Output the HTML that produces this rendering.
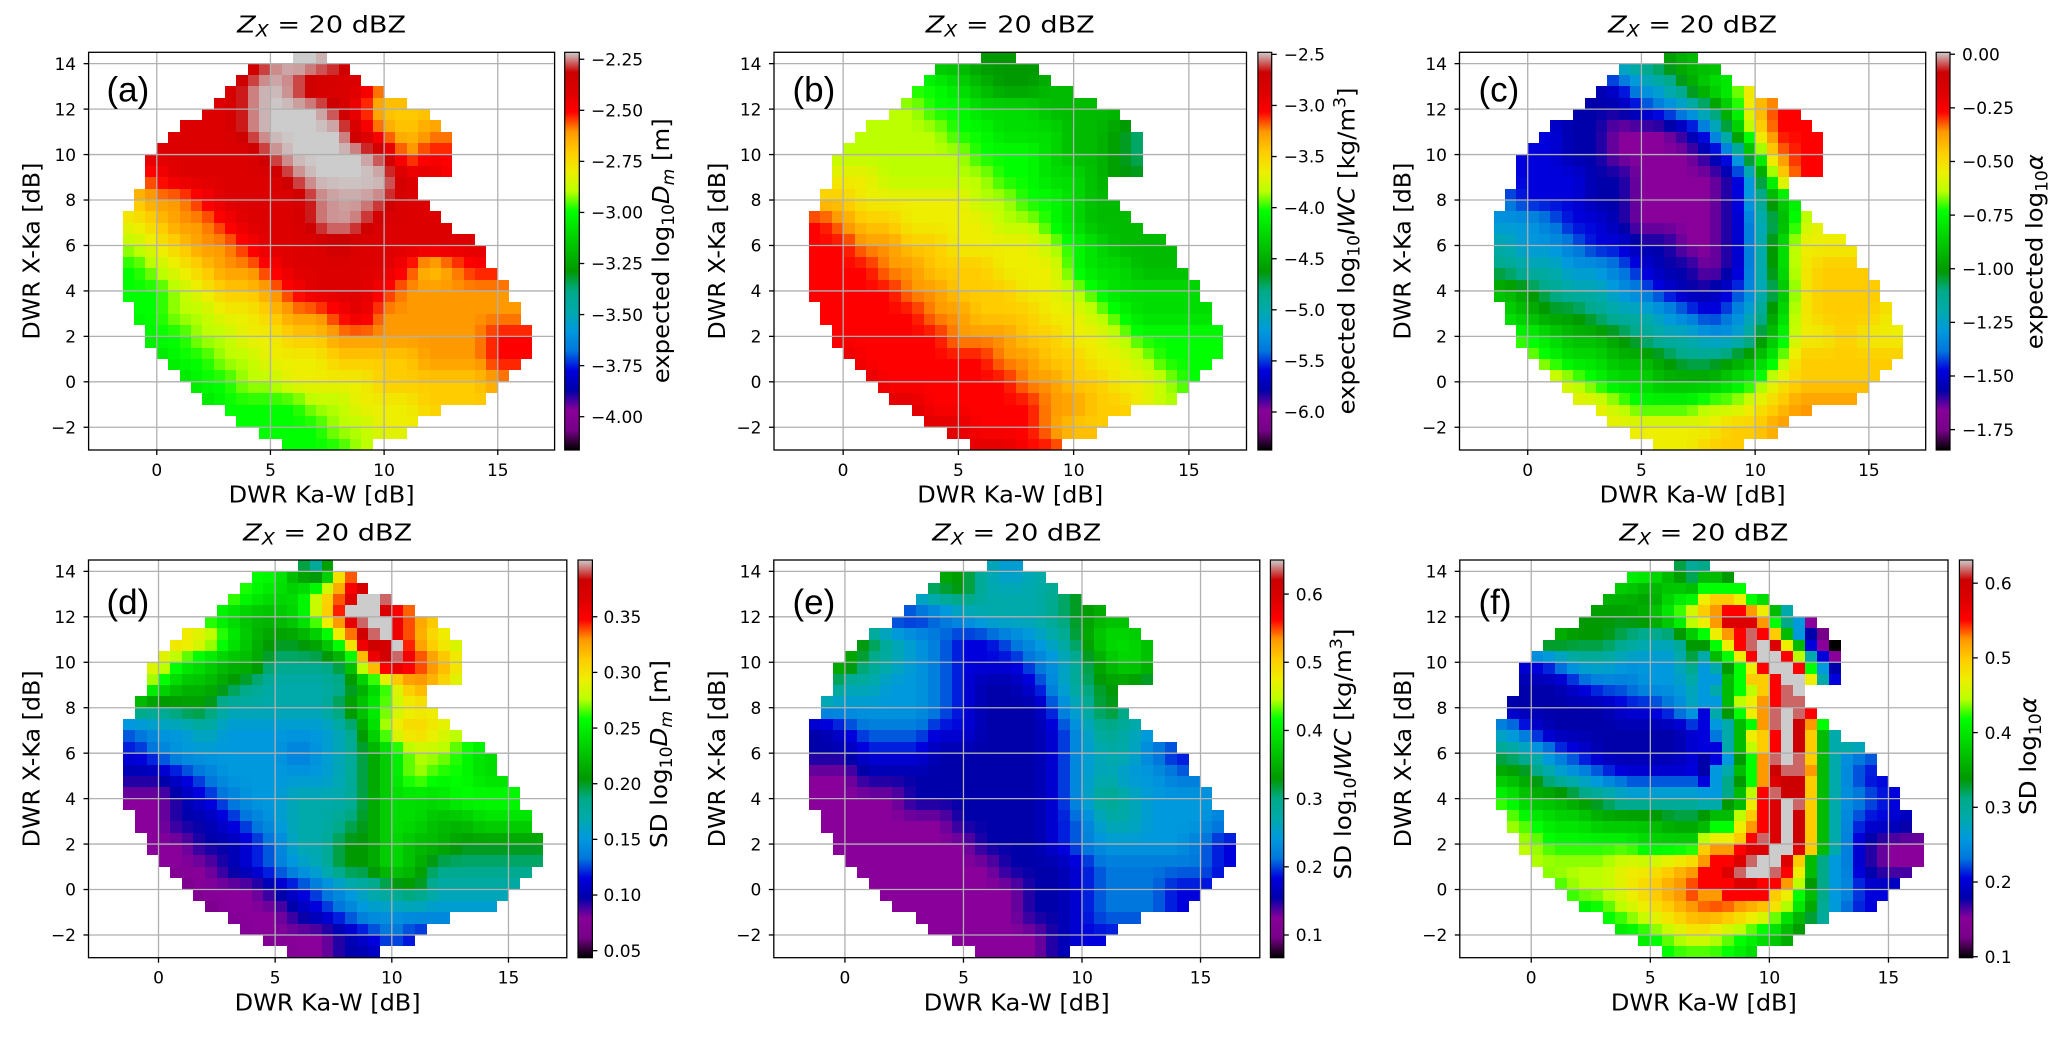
<!DOCTYPE html>
<html><head><meta charset="utf-8">
<style>
html,body{margin:0;padding:0;background:#fff;}
svg{display:block;}
text{font-family:"DejaVu Sans","Liberation Sans",sans-serif;fill:#000;}
.t{font-size:17px;}
.lab{font-size:23.5px;}
.let{font-family:"Liberation Sans",sans-serif;font-size:35px;}
</style></head><body>
<svg id="fig" width="2067" height="1037" viewBox="0 0 2067 1037" xmlns="http://www.w3.org/2000/svg">
<defs>
<linearGradient id="ns" x1="0" y1="1" x2="0" y2="0">
<stop offset="0" stop-color="#000000"/><stop offset="0.05" stop-color="#770088"/><stop offset="0.10" stop-color="#880099"/><stop offset="0.15" stop-color="#0000aa"/><stop offset="0.20" stop-color="#0000dd"/><stop offset="0.25" stop-color="#0077dd"/><stop offset="0.30" stop-color="#0099dd"/><stop offset="0.35" stop-color="#00aaaa"/><stop offset="0.40" stop-color="#00aa88"/><stop offset="0.45" stop-color="#009900"/><stop offset="0.50" stop-color="#00bb00"/><stop offset="0.55" stop-color="#00dd00"/><stop offset="0.60" stop-color="#00ff00"/><stop offset="0.65" stop-color="#bbff00"/><stop offset="0.70" stop-color="#eeee00"/><stop offset="0.75" stop-color="#ffcc00"/><stop offset="0.80" stop-color="#ff9900"/><stop offset="0.85" stop-color="#ff0000"/><stop offset="0.90" stop-color="#dd0000"/><stop offset="0.95" stop-color="#cc0000"/><stop offset="1" stop-color="#cccccc"/>
</linearGradient>
</defs>
<rect width="2067" height="1037" fill="#fff"/>
<g id="cells" shape-rendering="crispEdges"></g>
<g id="lines"></g>

<!-- Titles -->
<text class="lab" x="321.6" y="32.7" text-anchor="middle" textLength="169" lengthAdjust="spacingAndGlyphs"><tspan font-style="italic">Z</tspan><tspan font-style="italic" font-size="16.5" dy="4">X</tspan><tspan dy="-4"> = 20 dBZ</tspan></text>
<text class="lab" x="1010.25" y="32.7" text-anchor="middle" textLength="169" lengthAdjust="spacingAndGlyphs"><tspan font-style="italic">Z</tspan><tspan font-style="italic" font-size="16.5" dy="4">X</tspan><tspan dy="-4"> = 20 dBZ</tspan></text>
<text class="lab" x="1692.6" y="32.7" text-anchor="middle" textLength="169" lengthAdjust="spacingAndGlyphs"><tspan font-style="italic">Z</tspan><tspan font-style="italic" font-size="16.5" dy="4">X</tspan><tspan dy="-4"> = 20 dBZ</tspan></text>
<text class="lab" x="327.65" y="540.4" text-anchor="middle" textLength="169" lengthAdjust="spacingAndGlyphs"><tspan font-style="italic">Z</tspan><tspan font-style="italic" font-size="16.5" dy="4">X</tspan><tspan dy="-4"> = 20 dBZ</tspan></text>
<text class="lab" x="1016.8" y="540.4" text-anchor="middle" textLength="169" lengthAdjust="spacingAndGlyphs"><tspan font-style="italic">Z</tspan><tspan font-style="italic" font-size="16.5" dy="4">X</tspan><tspan dy="-4"> = 20 dBZ</tspan></text>
<text class="lab" x="1703.9" y="540.4" text-anchor="middle" textLength="169" lengthAdjust="spacingAndGlyphs"><tspan font-style="italic">Z</tspan><tspan font-style="italic" font-size="16.5" dy="4">X</tspan><tspan dy="-4"> = 20 dBZ</tspan></text>

<!-- X labels -->
<text class="lab" x="321.6" y="502.7" text-anchor="middle" textLength="186" lengthAdjust="spacingAndGlyphs">DWR Ka-W [dB]</text>
<text class="lab" x="1010.25" y="502.7" text-anchor="middle" textLength="186" lengthAdjust="spacingAndGlyphs">DWR Ka-W [dB]</text>
<text class="lab" x="1692.6" y="502.7" text-anchor="middle" textLength="186" lengthAdjust="spacingAndGlyphs">DWR Ka-W [dB]</text>
<text class="lab" x="327.65" y="1010.4" text-anchor="middle" textLength="186" lengthAdjust="spacingAndGlyphs">DWR Ka-W [dB]</text>
<text class="lab" x="1016.8" y="1010.4" text-anchor="middle" textLength="186" lengthAdjust="spacingAndGlyphs">DWR Ka-W [dB]</text>
<text class="lab" x="1703.9" y="1010.4" text-anchor="middle" textLength="186" lengthAdjust="spacingAndGlyphs">DWR Ka-W [dB]</text>

<!-- Y labels -->
<text class="lab" transform="translate(39.6,251.15) rotate(-90)" text-anchor="middle" textLength="177" lengthAdjust="spacingAndGlyphs">DWR X-Ka [dB]</text>
<text class="lab" transform="translate(725,251.15) rotate(-90)" text-anchor="middle" textLength="177" lengthAdjust="spacingAndGlyphs">DWR X-Ka [dB]</text>
<text class="lab" transform="translate(1410.5,251.15) rotate(-90)" text-anchor="middle" textLength="177" lengthAdjust="spacingAndGlyphs">DWR X-Ka [dB]</text>
<text class="lab" transform="translate(39.5,758.85) rotate(-90)" text-anchor="middle" textLength="177" lengthAdjust="spacingAndGlyphs">DWR X-Ka [dB]</text>
<text class="lab" transform="translate(724.8,758.85) rotate(-90)" text-anchor="middle" textLength="177" lengthAdjust="spacingAndGlyphs">DWR X-Ka [dB]</text>
<text class="lab" transform="translate(1410.8,758.85) rotate(-90)" text-anchor="middle" textLength="177" lengthAdjust="spacingAndGlyphs">DWR X-Ka [dB]</text>

<!-- Y tick labels -->
<g class="t" text-anchor="end">
<text x="76.1" y="433.5">−2</text><text x="76.1" y="388.0">0</text><text x="76.1" y="342.6">2</text><text x="76.1" y="297.1">4</text><text x="76.1" y="251.7">6</text><text x="76.1" y="206.2">8</text><text x="76.1" y="160.8">10</text><text x="76.1" y="115.3">12</text><text x="76.1" y="69.9">14</text>
<text x="761.5" y="433.5">−2</text><text x="761.5" y="388.0">0</text><text x="761.5" y="342.6">2</text><text x="761.5" y="297.1">4</text><text x="761.5" y="251.7">6</text><text x="761.5" y="206.2">8</text><text x="761.5" y="160.8">10</text><text x="761.5" y="115.3">12</text><text x="761.5" y="69.9">14</text>
<text x="1447" y="433.5">−2</text><text x="1447" y="388.0">0</text><text x="1447" y="342.6">2</text><text x="1447" y="297.1">4</text><text x="1447" y="251.7">6</text><text x="1447" y="206.2">8</text><text x="1447" y="160.8">10</text><text x="1447" y="115.3">12</text><text x="1447" y="69.9">14</text>
<text x="76" y="941.2">−2</text><text x="76" y="895.7">0</text><text x="76" y="850.3">2</text><text x="76" y="804.8">4</text><text x="76" y="759.4">6</text><text x="76" y="713.9">8</text><text x="76" y="668.5">10</text><text x="76" y="623.0">12</text><text x="76" y="577.6">14</text>
<text x="761.3" y="941.2">−2</text><text x="761.3" y="895.7">0</text><text x="761.3" y="850.3">2</text><text x="761.3" y="804.8">4</text><text x="761.3" y="759.4">6</text><text x="761.3" y="713.9">8</text><text x="761.3" y="668.5">10</text><text x="761.3" y="623.0">12</text><text x="761.3" y="577.6">14</text>
<text x="1447.3" y="941.2">−2</text><text x="1447.3" y="895.7">0</text><text x="1447.3" y="850.3">2</text><text x="1447.3" y="804.8">4</text><text x="1447.3" y="759.4">6</text><text x="1447.3" y="713.9">8</text><text x="1447.3" y="668.5">10</text><text x="1447.3" y="623.0">12</text><text x="1447.3" y="577.6">14</text>
</g>

<!-- X tick labels -->
<g class="t" text-anchor="middle">
<text x="156.8" y="476">0</text><text x="270.5" y="476">5</text><text x="384.1" y="476">10</text><text x="497.8" y="476">15</text>
<text x="843.1" y="476">0</text><text x="958.4" y="476">5</text><text x="1073.7" y="476">10</text><text x="1188.9" y="476">15</text>
<text x="1527.7" y="476">0</text><text x="1641.4" y="476">5</text><text x="1755.2" y="476">10</text><text x="1868.9" y="476">15</text>
<text x="158.5" y="983.7">0</text><text x="275.2" y="983.7">5</text><text x="391.8" y="983.7">10</text><text x="508.5" y="983.7">15</text>
<text x="844.9" y="983.7">0</text><text x="963.5" y="983.7">5</text><text x="1082.1" y="983.7">10</text><text x="1200.6" y="983.7">15</text>
<text x="1531.2" y="983.7">0</text><text x="1650.3" y="983.7">5</text><text x="1769.4" y="983.7">10</text><text x="1888.4" y="983.7">15</text>
</g>

<!-- Colorbar tick labels -->
<g class="t" text-anchor="start">
<text x="591" y="65.5">−2.25</text><text x="591" y="116.5">−2.50</text><text x="591" y="167.6">−2.75</text><text x="591" y="218.7">−3.00</text><text x="591" y="269.7">−3.25</text><text x="591" y="320.8">−3.50</text><text x="591" y="371.8">−3.75</text><text x="591" y="422.9">−4.00</text>
<text x="1283.8" y="60.6">−2.5</text><text x="1283.8" y="111.7">−3.0</text><text x="1283.8" y="162.7">−3.5</text><text x="1283.8" y="213.8">−4.0</text><text x="1283.8" y="264.9">−4.5</text><text x="1283.8" y="316.0">−5.0</text><text x="1283.8" y="367.1">−5.5</text><text x="1283.8" y="418.2">−6.0</text>
<text x="1962" y="60.4">0.00</text><text x="1962" y="114.1">−0.25</text><text x="1962" y="167.7">−0.50</text><text x="1962" y="221.3">−0.75</text><text x="1962" y="274.9">−1.00</text><text x="1962" y="328.6">−1.25</text><text x="1962" y="382.2">−1.50</text><text x="1962" y="435.8">−1.75</text>
<text x="603.5" y="956.9">0.05</text><text x="603.5" y="901.2">0.10</text><text x="603.5" y="845.6">0.15</text><text x="603.5" y="789.9">0.20</text><text x="603.5" y="734.3">0.25</text><text x="603.5" y="678.6">0.30</text><text x="603.5" y="623.0">0.35</text>
<text x="1295.8" y="941.2">0.1</text><text x="1295.8" y="873.0">0.2</text><text x="1295.8" y="804.8">0.3</text><text x="1295.8" y="736.7">0.4</text><text x="1295.8" y="668.5">0.5</text><text x="1295.8" y="600.3">0.6</text>
<text x="1984.6" y="962.9">0.1</text><text x="1984.6" y="888.2">0.2</text><text x="1984.6" y="813.5">0.3</text><text x="1984.6" y="738.8">0.4</text><text x="1984.6" y="664.1">0.5</text><text x="1984.6" y="589.4">0.6</text>
</g>

<!-- Colorbar labels -->
<text class="lab" transform="translate(669.2,250.8) rotate(-90)" text-anchor="middle" textLength="265" lengthAdjust="spacingAndGlyphs">expected log<tspan font-size="16.5" dy="5">10</tspan><tspan font-style="italic" dy="-5">D</tspan><tspan font-style="italic" font-size="16.5" dy="5">m</tspan><tspan dy="-5"> [m]</tspan></text>
<text class="lab" transform="translate(1354.5,251) rotate(-90)" text-anchor="middle" textLength="327" lengthAdjust="spacingAndGlyphs">expected log<tspan font-size="16.5" dy="5">10</tspan><tspan font-style="italic" dy="-5">IWC</tspan><tspan> [kg/m</tspan><tspan font-size="16.5" dy="-9">3</tspan><tspan dy="9">]</tspan></text>
<text class="lab" transform="translate(2042.5,251.7) rotate(-90)" text-anchor="middle" textLength="195" lengthAdjust="spacingAndGlyphs">expected log<tspan font-size="16.5" dy="5">10</tspan><tspan font-style="italic" dy="-5">α</tspan></text>
<text class="lab" transform="translate(667,754) rotate(-90)" text-anchor="middle" textLength="188" lengthAdjust="spacingAndGlyphs">SD log<tspan font-size="16.5" dy="5">10</tspan><tspan font-style="italic" dy="-5">D</tspan><tspan font-style="italic" font-size="16.5" dy="5">m</tspan><tspan dy="-5"> [m]</tspan></text>
<text class="lab" transform="translate(1351.2,754) rotate(-90)" text-anchor="middle" textLength="251" lengthAdjust="spacingAndGlyphs">SD log<tspan font-size="16.5" dy="5">10</tspan><tspan font-style="italic" dy="-5">IWC</tspan><tspan> [kg/m</tspan><tspan font-size="16.5" dy="-9">3</tspan><tspan dy="9">]</tspan></text>
<text class="lab" transform="translate(2036.2,756) rotate(-90)" text-anchor="middle" textLength="118" lengthAdjust="spacingAndGlyphs">SD log<tspan font-size="16.5" dy="5">10</tspan><tspan font-style="italic" dy="-5">α</tspan></text>

<!-- Panel letters -->
<text class="let" x="106.5" y="101.5">(a)</text>
<text class="let" x="792.5" y="101.5">(b)</text>
<text class="let" x="1478.5" y="101.5">(c)</text>
<text class="let" x="106.5" y="614">(d)</text>
<text class="let" x="792.5" y="614">(e)</text>
<text class="let" x="1478.5" y="614">(f)</text>
</svg>
<script>
(function(){
const CM=[[0,0,0],[0.4667,0,0.5333],[0.5333,0,0.6],[0,0,0.6667],[0,0,0.8667],[0,0.4667,0.8667],[0,0.6,0.8667],[0,0.6667,0.6667],[0,0.6667,0.5333],[0,0.6,0],[0,0.7333,0],[0,0.8667,0],[0,1,0],[0.7333,1,0],[0.9333,0.9333,0],[1,0.8,0],[1,0.6,0],[1,0,0],[0.8667,0,0],[0.8,0,0],[0.8,0.8,0.8]];
function cmap(t){t=Math.max(0,Math.min(1,t));const f=t*20;const i=Math.min(19,Math.floor(f));const u=f-i;const a=CM[i],b=CM[i+1];
 return 'rgb('+[0,1,2].map(k=>Math.round(255*(a[k]+(b[k]-a[k])*u))).join(',')+')';}
const LV={};'abcdefghijklmnopqrstu'.split('').forEach((c,i)=>LV[c]=i/20);LV.v=0.975;LV.w=0.99;
function val(G,xc,yc){let fx=xc+1,fy=14-yc;fx=Math.max(0,Math.min(17,fx));fy=Math.max(0,Math.min(17,fy));
 const c0=Math.floor(fx),r0=Math.floor(fy),c1=Math.min(17,c0+1),r1=Math.min(17,r0+1),u=fx-c0,w=fy-r0;
 const g=(r,c)=>LV[G[r][c]];
 return (1-w)*((1-u)*g(r0,c0)+u*g(r0,c1))+w*((1-u)*g(r1,c0)+u*g(r1,c1));}
const MASK=[[6,7.5],[4,8.5],[3.5,9],[3,10],[2.5,11],[2,12],[1,12.5],[0.5,13],[0,13],[-0.5,13],[-0.5,13],[-0.5,11.5],[-1,11.5],[-1,12],[-1.5,12.5],[-1.5,13],[-1.5,14],[-1.5,14.5],[-1.5,14.5],[-1.5,15],[-1.5,15.5],[-1.5,15.5],[-1,16],[-1,16],[-0.5,16.5],[-0.5,16.5],[0,16.5],[0.5,16],[1,15.5],[1.5,15],[2,14.5],[3,12.5],[3.5,11.5],[4.5,11],[5.5,9.5]];
const GA=["ssssssvuuvssssssss","sssssvuvsssqqqqqqq","sssssvuuutrppppppp","sssssvuuuusqpqqqqq","ssssssvuuuutqrrrrr","qrsssssvuuuussrrrr","pqqrssssvwwvssssss","opqqrsssvwvsssssss","nopqqrssstssssssss","mnopqqrsssssrpqrrr","mmnoppqrsssrqqqqqq","mmnnoopqqrsqqqqqqq","lmmnnooppqqqqqqqrr","llmmnnoooppppqqqrr","lllmmnnoooopppppqq","llllmmmmnnoooppppp","mmmmmmmmmnnooooooo","mmmmmmmmmmnnnnnnnn"];
const GB=["mmmmmkkjjjjjjjjjjj","mmmmmmlkjjkkkkkkkk","nnnnnmmlllkkkkkkkk","nnnnnnmmlllkkjiiii","nnnnnnnmmmlkkjiiii","ooonnnnnmmllkjjjjj","ppooooonnmmlkkkkkk","rqppoooonnmlkkkkkk","rrqqppoooonmlkkkkk","rrrqqpppooomllkkkk","rrrrqqpppoonmlllll","rrrrrqqpppoonmllll","rrrrrrqqqppoonmmmm","rsrrrrrrqqppoonmmm","sssrrrrrrqqppoonmm","sssssrrrrrqqpponnn","sssssssrrrqppppppp","ssssssrssrrqqqqqqq"];
const GC=["hhhhhhijkkkkkkkkkk","dddddeghjlmppppppp","ddddddefgilprrrrrr","eeeddcccdfjorrrrrr","eeeddccccdflqrrrrr","eeeeddccccdhorrrrr","feeeddccccdhkmoooo","ggfeedccccdgjnoooo","hggfeeddccdgkooooo","ihhggfeddcdgkopppp","kjihhgfeddegjopppp","lkjjihhgfefhkopppo","mmlkkjihhggiloopoo","nnmllkkjiijkmppppp","ooonmllkkklmoppppp","ooooonmmmnnopqqqqq","ooooooooooppqqqqqq","oooooooooppppppppp"];
const GD=["lllllmmjhqqqqqqqqq","nnnnnmllorwqqqqqqq","mmmmlkklosusqppppp","oopomkjjkousqonnnn","oomlkkiiijqvrqoooo","omkkjihhhiknqpnnnn","jijjhhhhhjlnoooooo","fgghggggghkoponnnn","efgggggfghjlnnmlll","ddefggggghjlnmmlll","ccdefgghhhjlllmmmm","ccddefghhijllkklll","cccddefhhjjlkkjjjj","ccccdefghjjlkiiiii","bbbcccdefghijhhhhh","bbbbcccdefgggggggg","bbbbbccccdefeeeeee","bbbbbbbccddeeeeeee"];
const GE=["kkkkkkjhghhhhhhhhh","hhhhhijhhhijjjjjjj","eeeeefghhhijkkkkkk","jjjhgfeefghjllkkkk","kkihgfeeefgiklkkkk","khhggfeddegijjiiii","gggggfedddfhjiiiii","defffeedddegihgggg","ddeeedddddeghhfeee","ccddddddddeghggfff","ccccddddddegihgggg","ccccccddddefhhgggf","cccccccdddefggggfe","ccccccccdddefffffe","cccccccccddefffeee","cccccccccddefffeee","ccccccccccdeeeeeee","ccccccccccdeeeeeee"];
const GF=["mmmmmmmjhlllllllll","kkkkkkjllmmmmmmmmm","jjjjjjkmprpkhhhhhh","kkkjjihhkqtogcbbbb","eefhhgggjlrumecccc","dddeffgghjmrtoeeee","dddddeefhknrtroooo","geddddddehlqupllll","ihfeddddegjqupgfff","kjhgfeeeegjqtpgeee","mkkjihhhhhkrtpgfee","nmllkkkjjklqtpgeed","nnmmmmlllmosupgdcc","nnnnnoopqrsusngdcc","mmmnnopqrsssqkgeee","llllmnopqqpolifeee","llllllmnonmljiiiii","lllllllmmmlkkkkkkk"];
const OD={};
["8.5,12.5","9,12.5","8,12","8.5,12","9,12","9,11.5","9.5,11.5","9.5,11","10,10.5"].forEach(k=>OD[k]=1.0);
["9.5,12.5","8.5,11.5","9,11","10,10"].forEach(k=>OD[k]=0.975);
const OF={};
const FT={"13.5":"kkj.........","13":"mmmm........","12.5":"oppoml......","12":"pqrrqokh....","11.5":"oqsssqmigc..","11":"moqrvrpkgdb.","10.5":"jmorvusokeca","10":"hkmoruurnhec","9.5":"ghjmoruurmgd","9":"ggkmppruuohe","8.5":"ghkmnprvu...","8":"ggknoqrvv...","7.5":"ehjmoqvuvr..","7":"eghkmqvutqm.","6.5":"efhkoprutpkh","6":"eehknprutpkh","5.5":"degjmqvuvpkh","5":"dghkmqtvvqkh","4.5":"egijmqsttpkh","4":"ggiknrvttpkh","3.5":"hhjkorsuvpkh","3":"jkknprsutpkh","2.5":"kmmoqrsutpkh","2":"nooprvsutpkh","1.5":"pqqrssuuspkh","1":"qrrsvuuspkig","0.5":"rrsvuuvrokig","0":"rrrssrrqnjig","-0.5":"qqrrrrpomkig"};
Object.keys(FT).forEach(y=>{const s=FT[y];for(let i=0;i<s.length;i++){const ch=s[i];if(ch!=='.'){OF[(7+0.5*i)+','+y]=LV[ch];}}});
const P=[
 {L:88.6,R:554.6,T:52.3,B:450,cx:564.7,cw:14.6,ct:[59.25,110.32,161.38,212.45,263.51,314.58,365.64,416.71],G:GA,ov:{}},
 {L:774,R:1246.5,T:52.3,B:450,cx:1257.9,cw:13.8,ct:[54.36,105.45,156.54,207.63,258.72,309.81,360.9,411.99],G:GB,ov:{}},
 {L:1459.5,R:1925.7,T:52.3,B:450,cx:1936.2,cw:13.8,ct:[54.23,107.86,161.48,215.11,268.74,322.37,375.99,429.62],G:GC,ov:{}},
 {L:88.5,R:566.8,T:560,B:957.7,cx:578,cw:14.4,ct:[950.69,895.03,839.38,783.72,728.07,672.41,616.76],G:GD,ov:OD},
 {L:773.8,R:1259.8,T:560,B:957.7,cx:1270.4,cw:13.4,ct:[935.0,866.82,798.64,730.46,662.28,594.10],G:GE,ov:{}},
 {L:1459.8,R:1948,T:560,B:957.7,cx:1959.4,cw:13.4,ct:[956.73,882.02,807.31,732.6,657.89,583.18],G:GF,ov:OF}
];
let cells='',lines='';
P.forEach(p=>{
 const sx=(p.R-p.L)/20.5, sy=(p.B-p.T)/17.5;
 for(let k=0;k<35;k++){
  const y0=14-0.5*k; const xa=MASK[k][0], xb=MASK[k][1];
  for(let x0=xa;x0<xb-1e-6;x0+=0.5){
   const key=(x0===0?0:x0)+','+(y0===0?0:y0);
   const t=(key in p.ov)?p.ov[key]:val(p.G,x0+0.25,y0+0.25);
   const X0=Math.round(p.L+(x0+3)*sx), X1=Math.round(p.L+(x0+3.5)*sx);
   const Y0=Math.round(p.B-(y0+3.5)*sy), Y1=Math.round(p.B-(y0+3)*sy);
   cells+='<rect x="'+X0+'" y="'+Y0+'" width="'+(X1-X0)+'" height="'+(Y1-Y0)+'" fill="'+cmap(t)+'"/>';
  }
 }
 [0,5,10,15].forEach(v=>{const X=(p.L+(v+3)*sx).toFixed(2);
  lines+='<line x1="'+X+'" y1="'+p.T+'" x2="'+X+'" y2="'+p.B+'" stroke="#b0b0b0" stroke-width="1.3"/>';
  lines+='<line x1="'+X+'" y1="'+p.B+'" x2="'+X+'" y2="'+(p.B+5)+'" stroke="#000" stroke-width="1.3"/>';});
 for(let v=-2;v<=14;v+=2){const Y=(p.B-(v+3)*sy).toFixed(2);
  lines+='<line x1="'+p.L+'" y1="'+Y+'" x2="'+p.R+'" y2="'+Y+'" stroke="#b0b0b0" stroke-width="1.3"/>';
  lines+='<line x1="'+(p.L-5)+'" y1="'+Y+'" x2="'+p.L+'" y2="'+Y+'" stroke="#000" stroke-width="1.3"/>';}
 lines+='<rect x="'+p.L+'" y="'+p.T+'" width="'+(p.R-p.L)+'" height="'+(p.B-p.T)+'" fill="none" stroke="#000" stroke-width="1.3"/>';
 lines+='<rect x="'+p.cx+'" y="'+p.T+'" width="'+p.cw+'" height="'+(p.B-p.T)+'" fill="url(#ns)" stroke="#000" stroke-width="1.2"/>';
 const cr=p.cx+p.cw;
 p.ct.forEach(Y=>{lines+='<line x1="'+cr+'" y1="'+Y+'" x2="'+(cr+5)+'" y2="'+Y+'" stroke="#000" stroke-width="1.3"/>';});
});
document.getElementById('cells').innerHTML=cells;
document.getElementById('lines').innerHTML=lines;
})();
</script>
</body></html>
